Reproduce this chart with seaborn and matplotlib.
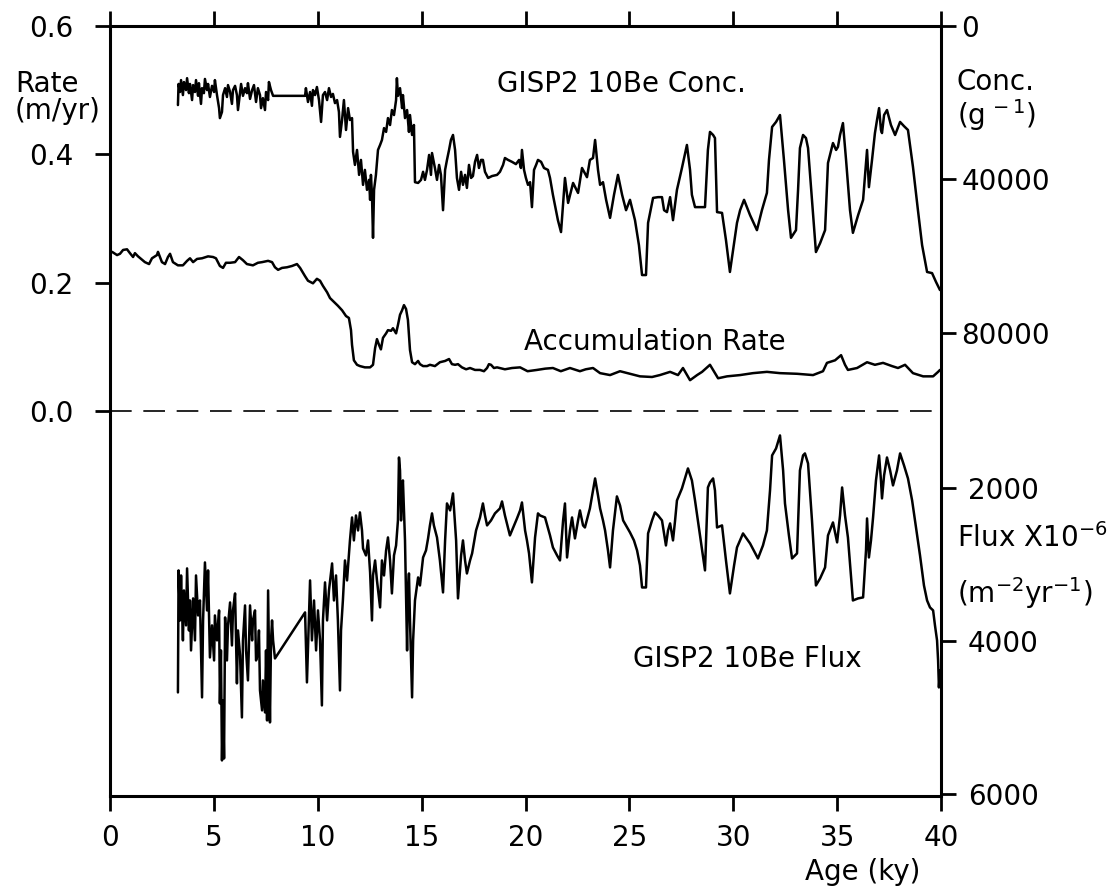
import matplotlib
matplotlib.use("Agg")
import matplotlib.pyplot as plt
import seaborn as sns

# ---- GISP2 10Be concentration (atoms g^-1) versus age (ky) ----
conc_age = [3.27, 3.30, 3.37, 3.42, 3.51, 3.56, 3.66, 3.71, 3.80, 3.85, 3.95, 4.00, 4.09, 4.14,
            4.24, 4.28, 4.38, 4.43, 4.52, 4.57, 4.67, 4.72, 4.81, 4.91, 5.01, 5.05, 5.15, 5.25,
            5.29, 5.39, 5.44, 5.54, 5.63, 5.68, 5.78, 5.87, 5.92, 6.02, 6.11, 6.16, 6.26, 6.31,
            6.40, 6.50, 6.59, 6.64, 6.74, 6.84, 6.93, 7.03, 7.12, 7.22, 7.27, 7.36, 7.46, 7.51,
            7.61, 7.65, 7.75, 7.85, 9.39, 9.43, 9.53, 9.63, 9.72, 9.77, 9.87, 9.96, 10.06, 10.16,
            10.25, 10.35, 10.45, 10.54, 10.64, 10.73, 10.83, 10.93, 11.02, 11.07, 11.17, 11.26,
            11.36, 11.46, 11.55, 11.65, 11.70, 11.79, 11.89, 11.99, 12.08, 12.18, 12.27, 12.37,
            12.47, 12.52, 12.56, 12.61, 12.66, 12.71, 12.80, 12.90, 13.00, 13.09, 13.19, 13.29,
            13.38, 13.48, 13.57, 13.67, 13.77, 13.81, 13.86, 13.96, 14.06, 14.10, 14.20, 14.30,
            14.39, 14.44, 14.54, 14.63, 14.68, 14.83, 14.97, 15.07, 15.16, 15.26, 15.36, 15.45,
            15.50, 15.64, 15.74, 15.84, 15.93, 16.03, 16.13, 16.22, 16.32, 16.41, 16.51, 16.61,
            16.70, 16.80, 16.90, 16.99, 17.09, 17.18, 17.28, 17.38, 17.47, 17.57, 17.67, 17.76,
            17.86, 17.95, 18.05, 18.20, 18.39, 18.63, 18.77, 18.92, 19.01, 19.16, 19.35, 19.54,
            19.69, 19.78, 19.83, 19.93, 20.02, 20.12, 20.22, 20.31, 20.41, 20.51, 20.60, 20.75,
            20.89, 21.08, 21.18, 21.32, 21.56, 21.71, 21.90, 22.05, 22.29, 22.53, 22.72, 22.96,
            23.10, 23.25, 23.35, 23.49, 23.59, 23.73, 23.88, 24.07, 24.26, 24.45, 24.65, 24.84,
            25.03, 25.27, 25.46, 25.61, 25.80, 25.90, 26.14, 26.38, 26.57, 26.67, 26.81, 26.96,
            27.10, 27.29, 27.53, 27.77, 27.92, 28.01, 28.16, 28.40, 28.64, 28.78, 28.88, 29.03,
            29.12, 29.22, 29.46, 29.65, 29.84, 29.99, 30.18, 30.33, 30.52, 30.81, 31.14, 31.38,
            31.62, 31.72, 31.87, 32.06, 32.25, 32.44, 32.64, 32.78, 33.02, 33.12, 33.21, 33.36,
            33.50, 33.60, 33.79, 33.98, 34.18, 34.42, 34.56, 34.80, 34.95, 35.04, 35.14, 35.28,
            35.43, 35.62, 35.76, 36.01, 36.25, 36.44, 36.53, 36.68, 36.82, 36.92, 37.02, 37.11,
            37.16, 37.26, 37.40, 37.59, 37.79, 38.03, 38.22, 38.41, 38.65, 38.89, 39.09, 39.33,
            39.57, 39.76, 39.95]
conc_val = [20600, 15100, 17200, 14100, 18000, 14600, 16700, 13600, 17500, 15100, 19300, 15400,
            17200, 14100, 18200, 14900, 20300, 16200, 17500, 13800, 16700, 15100, 18500, 15600,
            17200, 14100, 18000, 21400, 24000, 22400, 18000, 16200, 18500, 15400, 17200, 20300,
            16700, 15600, 18000, 21900, 17200, 15100, 18200, 16200, 17500, 14900, 19000, 16700,
            15400, 19800, 16200, 18000, 21400, 18800, 21900, 17200, 19300, 14600, 16700, 18200,
            18200, 16200, 19800, 17200, 20800, 16700, 18000, 15900, 19300, 25000, 18000, 17200,
            19300, 16200, 18500, 17700, 20100, 19300, 22400, 28900, 24500, 19300, 27100, 21400,
            24500, 24000, 32800, 36200, 32300, 38800, 34900, 41400, 37500, 42700, 40100, 45300,
            38800, 44000, 55200, 42700, 38800, 32300, 31000, 29700, 26600, 27600, 24000, 25800,
            21900, 23200, 19300, 13600, 18200, 16200, 21400, 18000, 24000, 21900, 27600, 23200,
            28400, 25800, 40700, 40900, 40100, 38000, 40100, 37500, 33600, 38800, 33100, 37000,
            40100, 36200, 38800, 48000, 37500, 34900, 32300, 29700, 28400, 32300, 39600, 42700,
            38000, 41400, 38800, 42200, 36200, 39600, 39100, 35400, 33600, 37000, 34900, 34900,
            38000, 39600, 39100, 38800, 38000, 36200, 34400, 34900, 35400, 36000, 34900, 37000,
            32300, 37500, 39600, 41400, 40700, 47200, 37500, 36200, 34900, 35400, 37000, 37500,
            39600, 44000, 50600, 53700, 39600, 46100, 40900, 43500, 37000, 39400, 34900, 34400,
            29700, 37500, 41400, 40700, 45300, 50000, 44000, 38800, 44000, 48000, 45300, 50600,
            57100, 64900, 64900, 51300, 44800, 44600, 44600, 48000, 48500, 44600, 50600, 42700,
            37000, 31000, 37500, 44000, 47200, 47200, 47200, 32300, 27600, 28400, 29200, 48500,
            48700, 55800, 64100, 58400, 51300, 48000, 45300, 49300, 53200, 48000, 43500, 34900,
            26300, 25000, 23200, 34900, 48000, 55200, 53200, 42700, 31800, 28400, 29200, 31800,
            45300, 58900, 56600, 53200, 35700, 30500, 32300, 31500, 28400, 25300, 34900, 48000,
            53900, 49300, 45300, 32300, 42000, 34900, 27900, 24500, 21400, 27100, 27900, 23200,
            21900, 25800, 28400, 25000, 26100, 27100, 36700, 48000, 57100, 64100, 64400, 66700,
            68800]

# ---- accumulation rate (m/yr) ----
acc_age = [0.10, 0.34, 0.48, 0.63, 0.82, 0.96, 1.11, 1.20, 1.35, 1.68, 1.88, 2.02, 2.26, 2.31,
           2.50, 2.65, 2.79, 2.89, 3.03, 3.27, 3.51, 3.71, 3.85, 4.00, 4.19, 4.43, 4.72, 4.96,
           5.10, 5.29, 5.44, 5.58, 5.78, 6.02, 6.21, 6.40, 6.59, 6.88, 7.12, 7.32, 7.61, 7.80,
           7.94, 8.09, 8.28, 8.52, 8.76, 9.00, 9.15, 9.39, 9.53, 9.77, 9.96, 10.11, 10.25, 10.45,
           10.59, 10.78, 10.97, 11.17, 11.36, 11.50, 11.60, 11.65, 11.74, 11.89, 12.03, 12.27,
           12.52, 12.66, 12.76, 12.85, 12.95, 13.04, 13.14, 13.29, 13.38, 13.53, 13.62, 13.77,
           13.86, 13.96, 14.06, 14.15, 14.25, 14.34, 14.44, 14.54, 14.68, 14.83, 14.92, 15.07,
           15.26, 15.40, 15.64, 15.88, 16.13, 16.32, 16.46, 16.61, 16.75, 16.94, 17.14, 17.33,
           17.57, 17.81, 18.00, 18.15, 18.24, 18.34, 18.48, 18.63, 19.01, 19.35, 19.74, 20.10,
           20.55, 20.95, 21.32, 21.70, 22.14, 22.62, 22.90, 23.25, 23.59, 24.07, 24.55, 25.03,
           25.51, 26.09, 26.47, 26.96, 27.34, 27.58, 27.92, 28.26, 28.50, 28.88, 29.27, 29.70,
           30.33, 30.95, 31.62, 32.25, 33.07, 33.84, 34.32, 34.51, 34.90, 35.19, 35.38, 35.52,
           35.96, 36.44, 36.82, 37.21, 37.64, 37.93, 38.27, 38.65, 39.14, 39.62, 39.86, 39.95]
acc_rate = [0.248, 0.243, 0.245, 0.251, 0.252, 0.246, 0.240, 0.246, 0.241, 0.232, 0.229, 0.238,
            0.243, 0.248, 0.232, 0.229, 0.240, 0.245, 0.232, 0.227, 0.227, 0.234, 0.238, 0.232,
            0.237, 0.238, 0.241, 0.240, 0.238, 0.226, 0.223, 0.231, 0.231, 0.232, 0.240, 0.235,
            0.229, 0.227, 0.231, 0.232, 0.234, 0.232, 0.224, 0.220, 0.223, 0.224, 0.226, 0.229,
            0.223, 0.210, 0.203, 0.199, 0.206, 0.203, 0.195, 0.185, 0.176, 0.170, 0.164, 0.157,
            0.148, 0.145, 0.126, 0.103, 0.079, 0.072, 0.070, 0.068, 0.068, 0.072, 0.098, 0.112,
            0.103, 0.096, 0.114, 0.121, 0.126, 0.125, 0.129, 0.121, 0.134, 0.150, 0.157, 0.165,
            0.159, 0.142, 0.095, 0.076, 0.073, 0.078, 0.073, 0.070, 0.070, 0.072, 0.070, 0.076,
            0.078, 0.081, 0.073, 0.072, 0.073, 0.068, 0.065, 0.067, 0.064, 0.064, 0.062, 0.067,
            0.073, 0.072, 0.067, 0.068, 0.065, 0.067, 0.068, 0.062, 0.064, 0.066, 0.067, 0.062,
            0.067, 0.062, 0.065, 0.067, 0.059, 0.056, 0.062, 0.058, 0.054, 0.053, 0.056, 0.061,
            0.056, 0.067, 0.048, 0.056, 0.061, 0.072, 0.051, 0.054, 0.056, 0.059, 0.061, 0.059,
            0.058, 0.056, 0.062, 0.075, 0.079, 0.087, 0.072, 0.064, 0.067, 0.076, 0.072, 0.075,
            0.070, 0.067, 0.072, 0.059, 0.054, 0.054, 0.061, 0.064]

# ---- GISP2 10Be flux (x10^-6 m^-2 yr^-1) ----
flux_age = [3.27, 3.30, 3.37, 3.42, 3.51, 3.56, 3.66, 3.71, 3.80, 3.85, 3.90, 4.00, 4.09, 4.14,
            4.24, 4.33, 4.43, 4.48, 4.57, 4.67, 4.72, 4.81, 4.91, 5.01, 5.05, 5.15, 5.25, 5.29,
            5.34, 5.39, 5.44, 5.49, 5.54, 5.63, 5.68, 5.78, 5.87, 5.92, 6.02, 6.11, 6.16, 6.26,
            6.35, 6.40, 6.50, 6.55, 6.64, 6.74, 6.84, 6.88, 6.98, 7.03, 7.12, 7.17, 7.22, 7.32,
            7.36, 7.46, 7.51, 7.56, 7.61, 7.70, 7.75, 7.80, 7.85, 7.94, 9.39, 9.48, 9.63, 9.72,
            9.82, 9.92, 10.01, 10.11, 10.20, 10.25, 10.35, 10.45, 10.54, 10.69, 10.78, 10.88,
            10.97, 11.07, 11.12, 11.21, 11.31, 11.41, 11.55, 11.65, 11.74, 11.84, 11.94, 12.03,
            12.13, 12.18, 12.32, 12.42, 12.52, 12.61, 12.66, 12.76, 12.85, 13.00, 13.09, 13.19,
            13.29, 13.38, 13.48, 13.57, 13.67, 13.77, 13.86, 13.91, 13.96, 14.01, 14.06, 14.10,
            14.20, 14.30, 14.34, 14.39, 14.44, 14.54, 14.59, 14.68, 14.83, 14.92, 15.07, 15.21,
            15.31, 15.40, 15.50, 15.59, 15.74, 15.88, 16.03, 16.13, 16.22, 16.37, 16.51, 16.66,
            16.75, 16.90, 16.99, 17.09, 17.18, 17.33, 17.43, 17.62, 17.81, 17.95, 18.05, 18.15,
            18.34, 18.53, 18.77, 18.87, 19.01, 19.25, 19.45, 19.59, 19.74, 19.83, 19.98, 20.07,
            20.17, 20.31, 20.46, 20.60, 20.70, 20.94, 21.18, 21.32, 21.52, 21.66, 21.81, 21.90,
            22.00, 22.14, 22.24, 22.38, 22.53, 22.62, 22.77, 22.86, 23.01, 23.10, 23.25, 23.35,
            23.49, 23.59, 23.73, 23.83, 23.97, 24.07, 24.21, 24.40, 24.55, 24.70, 24.89, 25.03,
            25.22, 25.37, 25.51, 25.61, 25.80, 25.90, 26.09, 26.23, 26.38, 26.57, 26.76, 26.86,
            26.96, 27.10, 27.20, 27.29, 27.53, 27.82, 28.01, 28.16, 28.40, 28.64, 28.78, 28.88,
            29.03, 29.12, 29.22, 29.46, 29.65, 29.84, 30.04, 30.18, 30.47, 30.81, 31.19, 31.43,
            31.62, 31.77, 31.87, 32.06, 32.25, 32.40, 32.49, 32.68, 32.83, 33.07, 33.21, 33.36,
            33.45, 33.60, 33.79, 33.98, 34.18, 34.42, 34.56, 34.80, 35.00, 35.14, 35.24, 35.38,
            35.52, 35.76, 36.01, 36.25, 36.39, 36.44, 36.53, 36.63, 36.73, 36.87, 37.02, 37.11,
            37.16, 37.26, 37.40, 37.55, 37.69, 37.88, 38.03, 38.22, 38.41, 38.61, 38.75, 38.99,
            39.18, 39.33, 39.47, 39.62, 39.71, 39.81, 39.86, 39.90, 39.95]
flux_val = [4666, 3071, 3725, 3137, 3986, 3333, 3790, 3045, 3856, 3464, 4117, 3437, 3986, 3137,
            3660, 3464, 4731, 3725, 2967, 3594, 3071, 4209, 3790, 4248, 3660, 3986, 3594, 4810,
            4117, 5555, 4771, 5529, 3686, 4248, 3790, 3490, 4052, 3594, 3372, 4548, 3856, 4182,
            4993, 3986, 3529, 4117, 4509, 3529, 3986, 3725, 3594, 4248, 4156, 3856, 4640, 4901,
            4509, 4927, 4117, 5032, 3333, 5058, 3986, 3725, 3986, 4222, 3620, 4535, 3202, 3986,
            3464, 4117, 3594, 3986, 4836, 3725, 3228, 3725, 3333, 2980, 3464, 3137, 3725, 4640,
            3856, 3464, 2941, 3202, 2679, 2379, 2679, 2353, 2549, 2313, 2549, 2784, 2875, 2679,
            3098, 3725, 3137, 2941, 3202, 3555, 2941, 3137, 2810, 2640, 2941, 3372, 2875, 2745,
            2418, 1595, 1764, 2418, 2026, 1895, 2679, 4117, 3333, 3111, 3725, 4731, 3986, 3464,
            3163, 3268, 2902, 2810, 2653, 2483, 2326, 2483, 2640, 2941, 3359, 2679, 2196, 2287,
            2065, 2679, 3437, 2875, 2679, 2941, 3111, 2941, 2849, 2549, 2379, 2196, 2353, 2483,
            2418, 2326, 2261, 2170, 2353, 2614, 2483, 2392, 2287, 2183, 2549, 2679, 2849, 3228,
            2640, 2326, 2353, 2379, 2614, 2771, 2875, 2941, 2418, 2196, 2902, 2549, 2379, 2653,
            2418, 2287, 2483, 2510, 2353, 2261, 2026, 1869, 2091, 2261, 2418, 2549, 2810, 3032,
            2549, 2104, 2222, 2418, 2510, 2575, 2679, 2810, 3006, 3294, 3294, 2588, 2418, 2313,
            2353, 2418, 2745, 2549, 2457, 2679, 2418, 2157, 2000, 1738, 1895, 2157, 2614, 3071,
            1987, 1921, 1869, 2026, 2510, 2483, 2941, 3372, 3006, 2771, 2588, 2719, 2915, 2745,
            2549, 2026, 1568, 1477, 1307, 1764, 2196, 2614, 2915, 2849, 1764, 1568, 1542, 1673,
            2418, 3268, 3176, 3032, 2614, 2444, 2705, 2353, 1987, 2353, 2640, 3464, 3437, 3424,
            2810, 2392, 2902, 2679, 2379, 1895, 1568, 1895, 2130, 1830, 1595, 1764, 1960, 1764,
            1542, 1699, 1869, 2157, 2418, 2875, 3268, 3464, 3555, 3594, 3790, 3986, 4248, 4601,
            4378]

age_ticks = [0, 5, 10, 15, 20, 25, 30, 35, 40]
rate_ticks = [0.0, 0.2, 0.4, 0.6]
conc_ticks = [0, 40000, 80000]
flux_ticks = [2000, 4000, 6000]

sns.set_style("ticks")
plt.rcParams["font.family"] = ["DejaVu Sans"]
plt.rcParams["mathtext.fontset"] = "dejavusans"
plt.rcParams["text.color"] = "black"

W, H = 1118, 890
fig = plt.figure(figsize=(W / 100, H / 100), dpi=100)
fig.patch.set_facecolor("white")

L, R, T, B = 110, 941, 26, 796
ax = fig.add_axes([L / W, 1 - B / H, (R - L) / W, (B - T) / H])
ax_c = ax.twinx()
ax_f = ax.twinx()

line_kw = dict(color="black", linewidth=1.8, estimator=None, sort=False, legend=False)
sns.lineplot(x=acc_age, y=acc_rate, ax=ax, **line_kw)
sns.lineplot(x=conc_age, y=conc_val, ax=ax_c, **line_kw)
sns.lineplot(x=flux_age, y=flux_val, ax=ax_f, **line_kw)

# zero-rate reference
ax.axhline(0.0, color="black", linewidth=1.2, linestyle=(0, (13, 7)))

FS = 20
tick_kw = dict(direction="out", length=10.5, width=2.0, color="black",
               labelsize=FS, labelcolor="black")

ax.set_xlim(0, 40)
ax.set_ylim(-0.6, 0.6)
ax.set_xticks(age_ticks)
ax.set_xticklabels([str(a) for a in age_ticks])
ax.set_yticks(rate_ticks)
ax.set_yticklabels([f"{v:.1f}" for v in rate_ticks])
ax.tick_params(axis="x", bottom=True, top=True, pad=10, **tick_kw)
ax.tick_params(axis="y", left=True, right=False, pad=16, **tick_kw)
ax.set_xlabel("")
ax.set_ylabel("")
for s in ax.spines.values():
    s.set_visible(True)
    s.set_linewidth(2.2)
    s.set_color("black")

# concentration scale (top half, inverted)
ax_c.set_ylim(200660, 0)
ax_c.set_yticks(conc_ticks)
ax_c.set_yticklabels([str(v) for v in conc_ticks])
ax_c.tick_params(axis="y", right=True, left=False, labelright=True, labelleft=False, pad=4, **tick_kw)
ax_c.set_ylabel("")

# flux scale (bottom half, inverted)
ax_f.set_ylim(6020, -4045)
ax_f.set_yticks(flux_ticks)
ax_f.set_yticklabels([str(v) for v in flux_ticks])
ax_f.tick_params(axis="y", right=True, left=False, labelright=True, labelleft=False, pad=9, **tick_kw)
ax_f.set_ylabel("")

for a in (ax_c, ax_f):
    for s in a.spines.values():
        s.set_visible(False)
    a.set_xlim(0, 40)


def put(x, y, s, **kw):
    fig.text(x / W, 1 - y / H, s, fontsize=FS, color="black", va="baseline", **kw)


put(15, 92, "Rate")
put(15, 119, "(m/yr)")
put(957, 90, "Conc.")
put(957, 125, r"(g$^{\,-1}$)")
put(957, 547, r"Flux X10$^{-6}$")
put(957, 603, r"(m$^{-2}$yr$^{-1}$)")
put(497, 92, "GISP2 10Be Conc.")
put(524, 350, "Accumulation Rate")
put(633, 667, "GISP2 10Be Flux")
put(805, 880, "Age (ky)")

fig.savefig("out.png", dpi=100, facecolor="white")
